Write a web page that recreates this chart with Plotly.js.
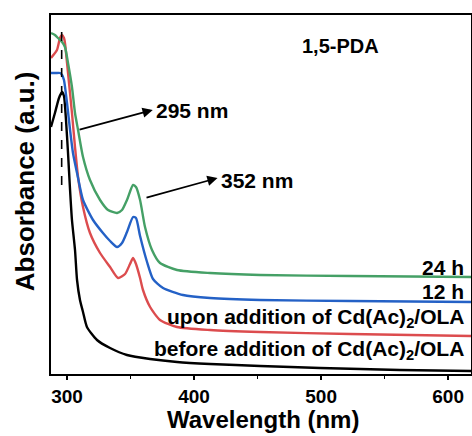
<!DOCTYPE html>
<html>
<head>
<meta charset="utf-8">
<script src="https://cdn.plot.ly/plotly-3.0.1.min.js"></script>
<style>html,body{margin:0;padding:0;background:#fff;}#chart{width:472px;height:436px;}</style>
</head>
<body>
<div id="chart"></div>
<script>
// Wavelength (nm) and absorbance (a.u.)
const wlBefore = [287.4,290.5,293.7,296.1,297.6,299.2,300.8,302.4,303.9,306.3,307.9,310.2,312.6,315.7,323.6,333.9,347.2,365.4,386.6,412.6,452,499.2,562,618];
const absBefore = [247,261,276,282,278,254,221,184,154,124,94,74,62,47,34,26,19,15,12,10,8,6,4,3];

const wlUpon = [287.4,292.1,294.5,296.1,297.6,298.4,300.8,303.9,306.3,308.7,312.6,318.1,326,333.9,340.2,345.7,349.6,352,354.3,357.5,359.8,365.4,373.2,386.6,412.6,452,522.8,618];
const absUpon = [316,324,336,339,336,331,301,261,227,197,167,141,121,107,96,100,110,116,110,96,84,67,54,47,44,42,40,38];

const wl12h = [287.4,291.3,294.5,296.1,297.6,300,302.4,304.7,307.9,312.6,320.5,328.3,333.9,339.4,343.3,347.2,352,354.3,357.5,363,367.7,375.6,391.3,412.6,452,522.8,618];
const abs12h = [301,301,301,299,294,271,244,221,201,174,154,141,133,127,131,142,157,156,138,112,95,86,79,76,74,73,72];

const wl24h = [287.4,290.5,292.9,296.1,298.4,300.8,303.9,306.3,308.7,312.6,318.1,326,332.3,339.4,343.3,347.2,352,354.3,357.5,361.4,366.9,373.2,386.6,412.6,452,522.8,618];
const abs24h = [341,339,336,332,327,311,287,261,244,217,194,174,164,161,164,174,189,187,174,147,124,111,104,101,99,98,97];

const xTickVals = [300,400,500,600];
const xTickText = ['300','400','500','600'];
const seriesNames = ['before addition of Cd(Ac)<sub>2</sub>/OLA','upon addition of Cd(Ac)<sub>2</sub>/OLA','12 h','24 h'];
const peakLabels = ['295 nm','352 nm'];
const dashWl = 295.8;

const F = 'Liberation Sans, Arial, Helvetica, sans-serif';
const lw = 2.4;
const traces = [
  {x: wlBefore, y: absBefore, color: '#000000'},
  {x: wlUpon, y: absUpon, color: '#dc4c4e'},
  {x: wl12h, y: abs12h, color: '#2461c6'},
  {x: wl24h, y: abs24h, color: '#45a066'}
].map((s, i) => ({
  x: s.x, y: s.y, type: 'scatter', mode: 'lines', name: seriesNames[i],
  line: {color: s.color, width: lw, shape: 'spline', smoothing: 0.6},
  hoverinfo: 'skip'
}));

const bold = {family: F, size: 21, color: '#000', weight: 'bold'};
const labelY = [24, 56, 83, 107];
const annotations = [];
seriesNames.forEach((t, i) => {
  annotations.push({xref: 'paper', yref: 'y', x: 0.988, y: labelY[i], text: t, showarrow: false,
    xanchor: 'right', yanchor: 'middle', font: bold});
});
annotations.push({xref: 'x', yref: 'y', x: 515, y: 328, text: '1,5-PDA', showarrow: false,
  font: {family: F, size: 20, color: '#000', weight: 'bold'}});
// arrows
annotations.push({xref: 'x', yref: 'y', axref: 'x', ayref: 'y', x: 367.5, y: 264, ax: 308.7, ay: 244,
  text: '', showarrow: true, arrowhead: 2, arrowsize: 1.2, arrowwidth: 1.7, arrowcolor: '#000'});
annotations.push({xref: 'x', yref: 'y', axref: 'x', ayref: 'y', x: 418.5, y: 196, ax: 361.4, ay: 176,
  text: '', showarrow: true, arrowhead: 2, arrowsize: 1.2, arrowwidth: 1.7, arrowcolor: '#000'});
annotations.push({xref: 'x', yref: 'y', x: 368.5, y: 264, text: peakLabels[0], showarrow: false,
  xanchor: 'left', yanchor: 'middle', font: bold});
annotations.push({xref: 'x', yref: 'y', x: 419.5, y: 194, text: peakLabels[1], showarrow: false,
  xanchor: 'left', yanchor: 'middle', font: bold});
// axis titles placed as in the reference
annotations.push({xref: 'paper', yref: 'paper', x: -0.062, y: 0.537, text: 'Absorbance (a.u.)', textangle: -90,
  showarrow: false, xanchor: 'center', yanchor: 'middle',
  font: {family: F, size: 26, color: '#000', weight: 'bold'}});
annotations.push({xref: 'paper', yref: 'paper', x: 0.504, y: -0.0836, text: 'Wavelength (nm)',
  showarrow: false, xanchor: 'center', yanchor: 'top',
  font: {family: F, size: 24, color: '#000', weight: 'bold'}});

const layout = {
  width: 472, height: 436,
  margin: {l: 51, r: 1, t: 15, b: 62},
  paper_bgcolor: '#fff', plot_bgcolor: '#fff',
  showlegend: false,
  font: {family: F, color: '#000'},
  xaxis: {
    range: [287.4, 618], showgrid: false, zeroline: false,
    showline: true, linewidth: 2, linecolor: '#000', mirror: true,
    ticks: 'outside', ticklen: 4, tickwidth: 2, tickcolor: '#000',
    tickvals: xTickVals, ticktext: xTickText,
    tickfont: {family: F, size: 19, color: '#000', weight: 'bold'},
    minor: {tickvals: [350,450,550], ticks: 'outside', ticklen: 3, tickwidth: 1.5, tickcolor: '#000'},
    automargin: false
  },
  yaxis: {
    range: [0, 359], showgrid: false, zeroline: false,
    showline: true, linewidth: 2, linecolor: '#000', mirror: true,
    ticks: '', showticklabels: false, automargin: false
  },
  shapes: [{type: 'line', xref: 'x', yref: 'y', x0: dashWl, x1: dashWl, y0: 189, y1: 350,
    line: {color: '#000', width: 1.6, dash: 'dash'}}],
  annotations: annotations
};

Plotly.newPlot('chart', traces, layout, {staticPlot: true, displayModeBar: false});
</script>
</body>
</html>
